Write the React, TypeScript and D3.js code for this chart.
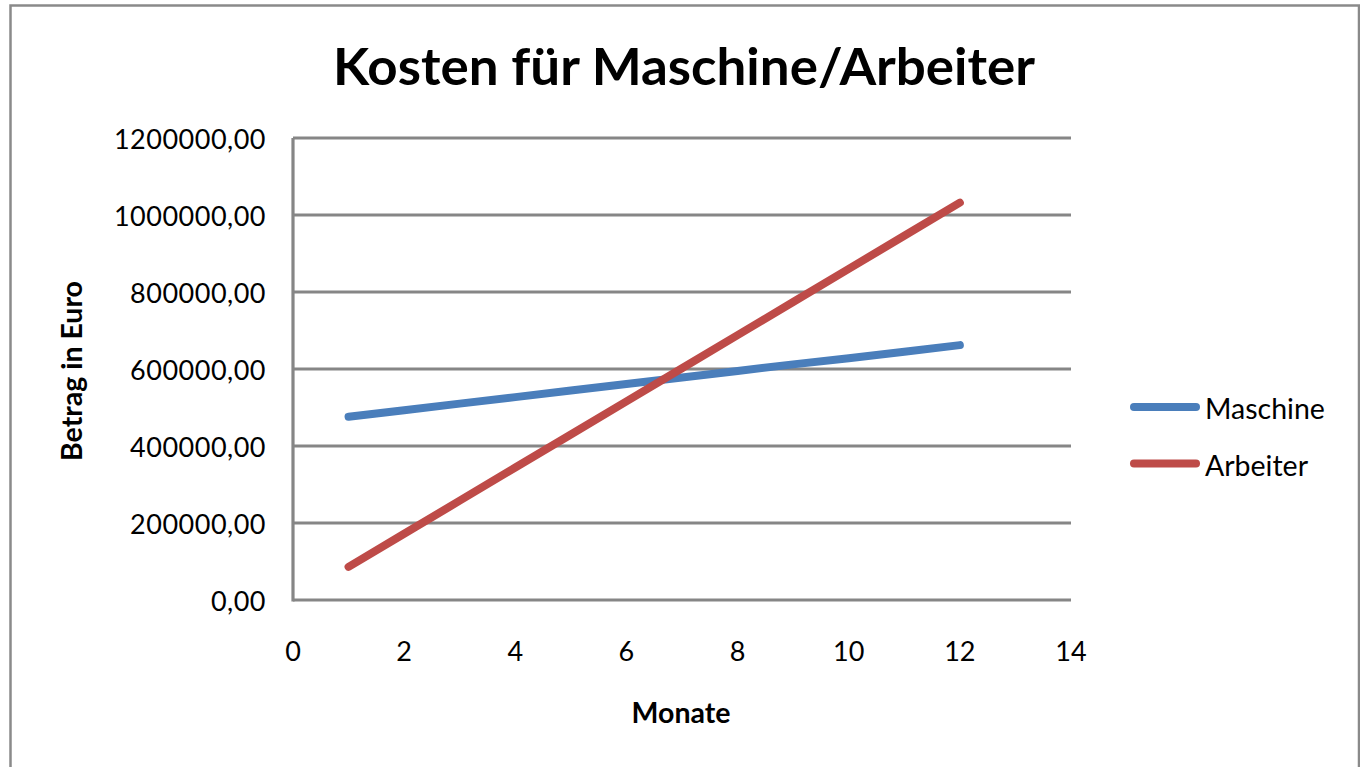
import React from 'react';
import * as d3 from 'd3';

const months = [1, 2, 3, 4, 5, 6, 7, 8, 9, 10, 11, 12];
const maschine = [476000, 493000, 510000, 527000, 544000, 561000, 578000, 595000, 612000, 628000, 645000, 662000];
const arbeiter = [86000, 172000, 258000, 344000, 430000, 516000, 602000, 688000, 774000, 860000, 946000, 1032000];
const yTicks = [0, 200000, 400000, 600000, 800000, 1000000, 1200000];
const xTicks = [0, 2, 4, 6, 8, 10, 12, 14];

const series = [
  { name: 'Maschine', values: maschine, color: '#4a7ebb' },
  { name: 'Arbeiter', values: arbeiter, color: '#be4b48' },
];

const font = 'Lato, "Open Sans", sans-serif';
const gridColor = '#868686';

export default function App() {
  const x = d3.scaleLinear().domain([0, 14]).range([293, 1071]);
  const y = d3.scaleLinear().domain([0, 1200000]).range([600, 138]);

  const line = d3
    .line<number>()
    .x((_, i) => x(months[i]))
    .y((d) => y(d));

  const fmt = (v: number) => v.toFixed(2).replace('.', ',');

  return (
    <svg
      width={1360}
      height={767}
      style={{ position: 'absolute', left: 0, top: 0, background: '#fff' }}
    >
      <rect x={10.5} y={5.5} width={1348.5} height={800} fill="#fff" stroke="#8a8a8a" strokeWidth={2.5} />

      <text
        x={684}
        y={85}
        textAnchor="middle"
        fontFamily={font}
        fontWeight="bold"
        fontSize={52}
        textLength={702}
        lengthAdjust="spacingAndGlyphs"
      >
        Kosten für Maschine/Arbeiter
      </text>

      {/* gridlines */}
      {yTicks.map((t) => (
        <line key={t} x1={x(0)} x2={x(14)} y1={y(t)} y2={y(t)} stroke={gridColor} strokeWidth={3.2} />
      ))}
      <line x1={x(0)} x2={x(0)} y1={y(1200000)} y2={y(0) + 1.6} stroke={gridColor} strokeWidth={3.2} />

      {/* y tick labels */}
      {yTicks.map((t) => (
        <text
          key={t}
          x={266}
          y={y(t) + 11}
          textAnchor="end"
          fontFamily={font}
          fontSize={27}
          letterSpacing={0.5}
        >
          {fmt(t)}
        </text>
      ))}

      {/* x tick labels */}
      {xTicks.map((t) => (
        <text key={t} x={x(t)} y={661} textAnchor="middle" fontFamily={font} fontSize={27}>
          {t}
        </text>
      ))}

      <text x={681} y={723} textAnchor="middle" fontFamily={font} fontWeight="bold" fontSize={28.5}>
        Monate
      </text>
      <text
        transform={`translate(82,371) rotate(-90)`}
        textAnchor="middle"
        fontFamily={font}
        fontWeight="bold"
        fontSize={28.5}
      >
        Betrag in Euro
      </text>

      {/* series */}
      {series.map((s) => (
        <path
          key={s.name}
          d={line(s.values) || ''}
          fill="none"
          stroke={s.color}
          strokeWidth={8}
          strokeLinecap="round"
          strokeLinejoin="round"
        />
      ))}

      {/* legend */}
      {series.map((s, i) => (
        <g key={s.name} transform={`translate(0,${407 + i * 56.5})`}>
          <line x1={1134} x2={1196} y1={0} y2={0} stroke={s.color} strokeWidth={8} strokeLinecap="round" />
          <text x={1205} y={12} fontFamily={font} fontSize={28.5}>
            {s.name}
          </text>
        </g>
      ))}
    </svg>
  );
}
